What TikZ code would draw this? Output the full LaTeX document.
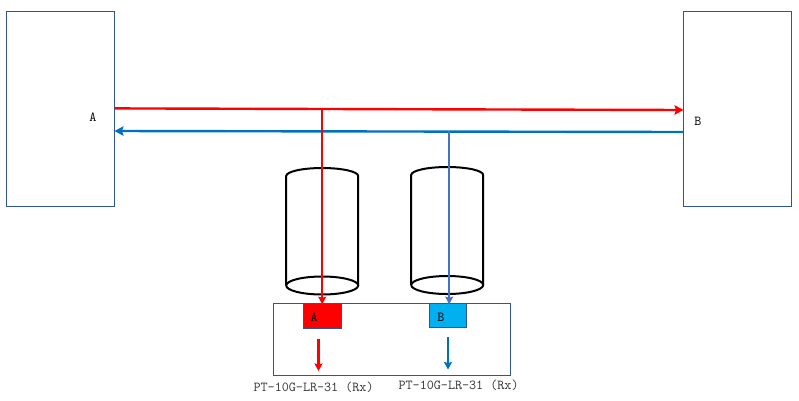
\documentclass[tikz,border=0pt]{standalone}
\usetikzlibrary{arrows.meta,positioning,calc}
\definecolor{edgeblue}{HTML}{2F5597}
\definecolor{flowblue}{HTML}{0070C0}
\definecolor{tapblue}{HTML}{4472C4}
\definecolor{chipblue}{HTML}{00B0F0}
\tikzset{
  x=1pt,y=-1pt,
  panel/.style={draw=edgeblue,line width=1pt,fill=white,inner sep=0pt,anchor=north west},
  chip/.style={draw=edgeblue,line width=1.1pt,inner sep=0pt,anchor=north west},
  lbl/.style={font=\ttfamily\fontsize{13.7}{15}\selectfont,inner sep=0pt,text=black},
  tiplbl/.style={font=\ttfamily\fontsize{13.7}{15}\selectfont,inner sep=0pt,text=black!80},
  mainflow/.style={line width=2.4pt,-{Stealth[length=9pt,width=9.5pt,inset=1.5pt]}},
  tap/.style={line width=2.2pt,-{Stealth[length=7.5pt,width=8pt,inset=1pt]}},
  cyl/.style={draw=black,line width=2pt},
}
\begin{document}
\begin{tikzpicture}
\useasboundingbox (0.8,0.8) rectangle (799.8,400.8);
% end boxes
\node[panel,minimum width=108pt,minimum height=195pt] (boxA) at (6.5,11.5) {};
\node[panel,minimum width=108pt,minimum height=195pt] (boxB) at (683.5,11.5) {};
\node[lbl] (labA) at (93.6,117.8) {A};
\node[lbl] (labB) at (698.6,121.8) {B};
% receiver
\node[panel,minimum width=237pt,minimum height=72pt] (rx) at (273.5,303.5) {};
\node[chip,fill=red,minimum width=38pt,minimum height=25pt] (chipA) at (303.5,304) {};
\node[chip,fill=chipblue,minimum width=37.5pt,minimum height=23.5pt] (chipB) at (429.5,304) {};
\node[lbl] (labChipA) at (315,317.8) {A};
\node[lbl] (labChipB) at (441.6,317.8) {B};
\node[tiplbl] (tipA) at (314.4,387.8) {PT-10G-LR-31 (Rx)};
\node[tiplbl] (tipB) at (459.4,386.3) {PT-10G-LR-31 (Rx)};
% cylinders
\draw[cyl] (287,286.3) -- (287,176.8) arc[start angle=180,end angle=0,x radius=36pt,y radius=8pt] -- (359,286.3);
\draw[cyl] (287,286.3) arc[start angle=180,end angle=-180,x radius=36pt,y radius=9pt];
\draw[cyl] (412,285.8) -- (412,175.8) arc[start angle=180,end angle=0,x radius=36pt,y radius=8pt] -- (484,285.8);
\draw[cyl] (412,285.8) arc[start angle=180,end angle=-180,x radius=36pt,y radius=9pt];
% free ends
\coordinate (aOut) at (115.3,109.2);
\coordinate (bIn) at (684.3,110.8);
\coordinate (bOut) at (684.3,132.8);
\coordinate (aIn) at (115.3,131.8);
\coordinate (tapRed) at (323,110);
\coordinate (tapBlue) at (450,132);
\coordinate (chipATop) at (323,305);
\coordinate (chipBTop) at (450,305);
\coordinate (outA1) at (319.3,339.8);
\coordinate (outA2) at (319.3,371.8);
\coordinate (outB1) at (448.8,337.8);
\coordinate (outB2) at (448.8,370.3);
% connectors
\draw[mainflow,red] (aOut) -- (bIn);
\draw[mainflow,flowblue] (bOut) -- (aIn);
\draw[tap,red] (tapRed) -- (chipATop);
\draw[tap,tapblue] (tapBlue) -- (chipBTop);
\draw[tap,red] (outA1) -- (outA2);
\draw[tap,flowblue] (outB1) -- (outB2);
\end{tikzpicture}
\end{document}
